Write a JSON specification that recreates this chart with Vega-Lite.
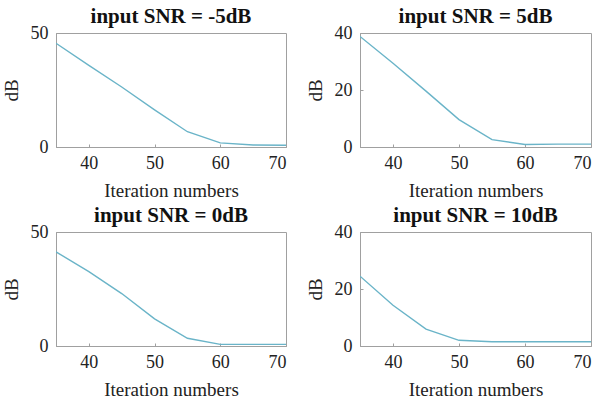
{
  "$schema": "https://vega.github.io/schema/vega-lite/v6.json",
  "padding": {"left": 1, "top": 5, "right": 4, "bottom": 0},
  "background": "white",
  "spacing": 3,
  "config": {
    "font": "Liberation Serif",
    "view": {"stroke": "#a0a0a0", "strokeWidth": 1},
    "title": {"font": "Liberation Serif", "fontSize": 21, "fontWeight": "bold", "color": "#111", "offset": -3, "frame": "group"},
    "axis": {
      "labelFont": "Liberation Serif", "titleFont": "Liberation Serif",
      "labelFontSize": 18, "titleFontSize": 19, "titleFontWeight": "normal",
      "labelColor": "#222", "titleColor": "#222",
      "domainColor": "#a0a0a0", "tickColor": "#a0a0a0", "tickSize": -3,
      "grid": false
    },
    "axisX": {"titlePadding": 9, "labelPadding": 10},
    "axisY": {"titlePadding": 9, "labelPadding": 11}
  },
  "datasets": {
    "snr": [
      {"panel": "m5", "iter": 35, "db": 45.5},
      {"panel": "m5", "iter": 40, "db": 35.8},
      {"panel": "m5", "iter": 45, "db": 26.3},
      {"panel": "m5", "iter": 50, "db": 16.3},
      {"panel": "m5", "iter": 55, "db": 6.7},
      {"panel": "m5", "iter": 60, "db": 1.8},
      {"panel": "m5", "iter": 65, "db": 0.9},
      {"panel": "m5", "iter": 70, "db": 0.8},
      {"panel": "p5", "iter": 35, "db": 38.8},
      {"panel": "p5", "iter": 40, "db": 29.4},
      {"panel": "p5", "iter": 45, "db": 19.6},
      {"panel": "p5", "iter": 50, "db": 9.6},
      {"panel": "p5", "iter": 55, "db": 2.6},
      {"panel": "p5", "iter": 60, "db": 0.9},
      {"panel": "p5", "iter": 65, "db": 1.0},
      {"panel": "p5", "iter": 70, "db": 1.0},
      {"panel": "z0", "iter": 35, "db": 41.3},
      {"panel": "z0", "iter": 40, "db": 32.6},
      {"panel": "z0", "iter": 45, "db": 23.0},
      {"panel": "z0", "iter": 50, "db": 11.9},
      {"panel": "z0", "iter": 55, "db": 3.4},
      {"panel": "z0", "iter": 60, "db": 0.7},
      {"panel": "z0", "iter": 65, "db": 0.7},
      {"panel": "z0", "iter": 70, "db": 0.7},
      {"panel": "p10", "iter": 35, "db": 24.5},
      {"panel": "p10", "iter": 40, "db": 14.3},
      {"panel": "p10", "iter": 45, "db": 5.9},
      {"panel": "p10", "iter": 50, "db": 2.0},
      {"panel": "p10", "iter": 55, "db": 1.5},
      {"panel": "p10", "iter": 60, "db": 1.5},
      {"panel": "p10", "iter": 65, "db": 1.5},
      {"panel": "p10", "iter": 70, "db": 1.5}
    ]
  },
  "vconcat": [
    {
      "spacing": 18,
      "hconcat": [
        {
          "title": "input SNR = -5dB",
          "width": 230, "height": 114,
          "data": {"name": "snr"},
          "transform": [{"filter": "datum.panel === 'm5'"}],
          "mark": {"type": "line", "color": "#6ab4c8", "strokeWidth": 1.4, "clip": true},
          "encoding": {
            "x": {"field": "iter", "type": "quantitative", "scale": {"domain": [35, 70], "nice": false}, "axis": {"title": "Iteration numbers", "values": [40, 50, 60, 70]}},
            "y": {"field": "db", "type": "quantitative", "scale": {"domain": [0, 50], "nice": false}, "axis": {"title": "dB", "values": [0, 50]}}
          }
        },
        {
          "title": "input SNR = 5dB",
          "width": 231, "height": 114,
          "data": {"name": "snr"},
          "transform": [{"filter": "datum.panel === 'p5'"}],
          "mark": {"type": "line", "color": "#6ab4c8", "strokeWidth": 1.4, "clip": true},
          "encoding": {
            "x": {"field": "iter", "type": "quantitative", "scale": {"domain": [35, 70], "nice": false}, "axis": {"title": "Iteration numbers", "values": [40, 50, 60, 70]}},
            "y": {"field": "db", "type": "quantitative", "scale": {"domain": [0, 40], "nice": false}, "axis": {"title": "dB", "values": [0, 20, 40]}}
          }
        }
      ]
    },
    {
      "spacing": 18,
      "hconcat": [
        {
          "title": "input SNR = 0dB",
          "width": 230, "height": 114,
          "data": {"name": "snr"},
          "transform": [{"filter": "datum.panel === 'z0'"}],
          "mark": {"type": "line", "color": "#6ab4c8", "strokeWidth": 1.4, "clip": true},
          "encoding": {
            "x": {"field": "iter", "type": "quantitative", "scale": {"domain": [35, 70], "nice": false}, "axis": {"title": "Iteration numbers", "values": [40, 50, 60, 70]}},
            "y": {"field": "db", "type": "quantitative", "scale": {"domain": [0, 50], "nice": false}, "axis": {"title": "dB", "values": [0, 50]}}
          }
        },
        {
          "title": "input SNR = 10dB",
          "width": 231, "height": 114,
          "data": {"name": "snr"},
          "transform": [{"filter": "datum.panel === 'p10'"}],
          "mark": {"type": "line", "color": "#6ab4c8", "strokeWidth": 1.4, "clip": true},
          "encoding": {
            "x": {"field": "iter", "type": "quantitative", "scale": {"domain": [35, 70], "nice": false}, "axis": {"title": "Iteration numbers", "values": [40, 50, 60, 70]}},
            "y": {"field": "db", "type": "quantitative", "scale": {"domain": [0, 40], "nice": false}, "axis": {"title": "dB", "values": [0, 20, 40]}}
          }
        }
      ]
    }
  ]
}
